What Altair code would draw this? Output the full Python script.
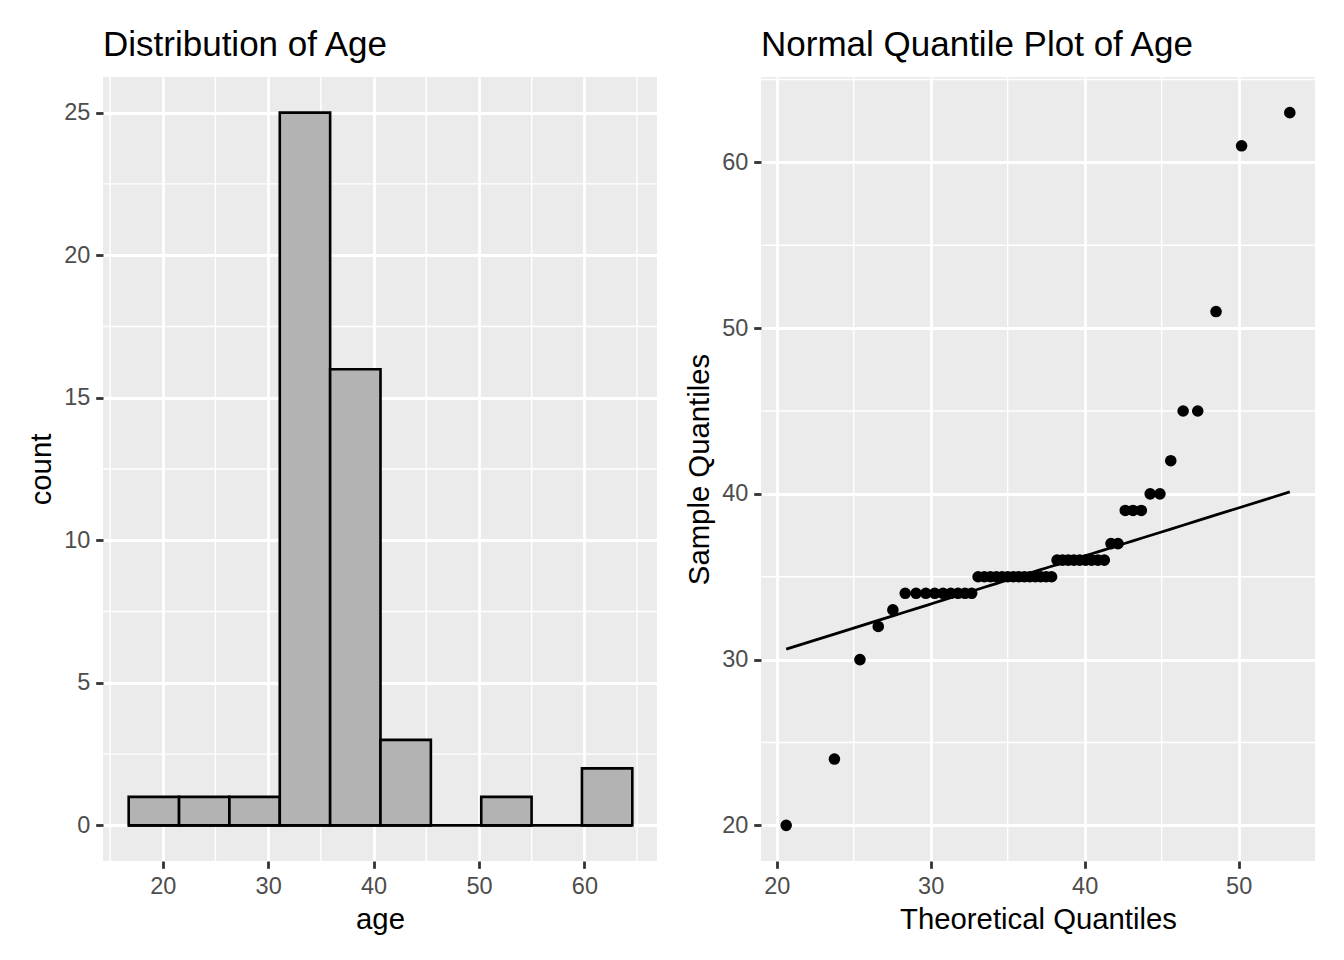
import altair as alt
import pandas as pd

# ---- data ----
age_values = [20, 24, 30, 32, 33, 34, 35, 36, 37, 39, 40, 42, 45, 51, 61, 63]
age_counts = [1, 1, 1, 1, 1, 9, 14, 9, 2, 3, 2, 1, 2, 1, 1, 1]
ages = [v for v, c in zip(age_values, age_counts) for _ in range(c)]

# histogram bins (10 bins, as in the reference)
bin_width = 43 / 9
bin_start = 16.7222
bin_stop = 64.5

# normal distribution parameters of the theoretical quantiles
dist_mean = 36.97
dist_sd = 7.03

hist_x_ticks = [20, 30, 40, 50, 60]
hist_y_ticks = [0, 5, 10, 15, 20, 25]
hist_minor_x = [15, 25, 35, 45, 55, 65]
hist_minor_y = [2.5, 7.5, 12.5, 17.5, 22.5]

qq_x_ticks = [20, 30, 40, 50]
qq_y_ticks = [20, 30, 40, 50, 60]
qq_minor_x = [25, 35, 45]
qq_minor_y = [25, 35, 45, 55, 65]

W, H = 554, 784
FONT = "Liberation Sans"

# ---------------- histogram ----------------
hx_scale = alt.Scale(domain=[14.333, 66.889], nice=False, zero=False)
hy_scale = alt.Scale(domain=[-1.25, 26.25], nice=False, zero=False)
hx_axis = alt.Axis(values=hist_x_ticks, title="age")
hy_axis = alt.Axis(values=hist_y_ticks, title="count")

hist_df = pd.DataFrame({"age": ages})

h_minor_x = alt.Chart(pd.DataFrame({"v": hist_minor_x})).mark_rule(
    color="white", strokeWidth=1.4
).encode(x=alt.X("v:Q", scale=hx_scale, axis=hx_axis))
h_minor_y = alt.Chart(pd.DataFrame({"v": hist_minor_y})).mark_rule(
    color="white", strokeWidth=1.4
).encode(y=alt.Y("v:Q", scale=hy_scale, axis=hy_axis))

bars = alt.Chart(hist_df).mark_bar(
    fill="#B3B3B3", stroke="black", strokeWidth=2.6, binSpacing=0
).encode(
    x=alt.X("age:Q",
            bin=alt.Bin(extent=[bin_start, bin_stop], step=bin_width, nice=False),
            scale=hx_scale, axis=hx_axis),
    y=alt.Y("count():Q", scale=hy_scale, axis=hy_axis),
    y2=alt.datum(0),
)

zero_line = alt.Chart(pd.DataFrame({"lo": [bin_start], "hi": [bin_stop]})).mark_rule(
    color="black", strokeWidth=2.6
).encode(
    x=alt.X("lo:Q", scale=hx_scale, axis=hx_axis),
    x2="hi:Q",
    y=alt.datum(0),
)

hist = alt.layer(h_minor_x, h_minor_y, bars, zero_line).properties(
    width=W, height=H,
    title=alt.TitleParams("Distribution of Age", anchor="start", frame="group"),
)

# ---------------- QQ plot ----------------
qx_scale = alt.Scale(domain=[18.98, 54.96], nice=False, zero=False)
qy_scale = alt.Scale(domain=[17.85, 65.15], nice=False, zero=False)
qx_axis = alt.Axis(values=qq_x_ticks, title="Theoretical Quantiles")
qy_axis = alt.Axis(values=qq_y_ticks, title="Sample Quantiles")

q_minor_x = alt.Chart(pd.DataFrame({"v": qq_minor_x})).mark_rule(
    color="white", strokeWidth=1.4
).encode(x=alt.X("v:Q", scale=qx_scale, axis=qx_axis))
q_minor_y = alt.Chart(pd.DataFrame({"v": qq_minor_y})).mark_rule(
    color="white", strokeWidth=1.4
).encode(y=alt.Y("v:Q", scale=qy_scale, axis=qy_axis))

qq_base = alt.Chart(pd.DataFrame({"age": ages})).transform_window(
    rank="row_number()", sort=[alt.SortField("age")]
).transform_joinaggregate(
    n="count()", q1="q1(age)", q3="q3(age)"
).transform_calculate(
    p="(datum.rank - 0.5) / datum.n"
).transform_calculate(
    theo=f"quantileNormal(datum.p, {dist_mean}, {dist_sd})",
    xq1=f"quantileNormal(0.25, {dist_mean}, {dist_sd})",
    xq3=f"quantileNormal(0.75, {dist_mean}, {dist_sd})",
).transform_calculate(
    fit="datum.q1 + (datum.theo - datum.xq1) * (datum.q3 - datum.q1) / (datum.xq3 - datum.xq1)"
)

qq_line = qq_base.mark_line(color="black", strokeWidth=2.8).encode(
    x=alt.X("theo:Q", scale=qx_scale, axis=qx_axis),
    y=alt.Y("fit:Q", scale=qy_scale, axis=qy_axis),
    order="theo:Q",
)
qq_pts = qq_base.mark_circle(size=135, color="black", opacity=1).encode(
    x=alt.X("theo:Q", scale=qx_scale, axis=qx_axis),
    y=alt.Y("age:Q", scale=qy_scale, axis=qy_axis),
)

qq = alt.layer(q_minor_x, q_minor_y, qq_line, qq_pts).properties(
    width=W, height=H,
    title=alt.TitleParams("Normal Quantile Plot of Age", anchor="start", frame="group"),
)

chart = alt.hconcat(hist, qq, spacing=27).properties(
    padding={"left": 19, "top": 20, "right": 5, "bottom": 5},
    background="white",
).configure_view(
    fill="#EBEBEB", stroke=None
).configure_axis(
    domain=False,
    grid=True,
    gridColor="white",
    gridWidth=2.8,
    tickColor="#333333",
    tickWidth=2.8,
    tickSize=7.3,
    labelFont=FONT,
    labelFontSize=23.5,
    labelColor="#4D4D4D",
    labelPadding=5.9,
    titleFont=FONT,
    titleFontSize=29.3,
    titleFontWeight="normal",
    titleColor="black",
    titlePadding=7.3,
).configure_title(
    font=FONT,
    fontSize=35,
    fontWeight="normal",
    color="black",
    baseline="alphabetic",
    offset=13,
)

chart.save("out.html", embed_options={"renderer": "svg", "actions": False})
